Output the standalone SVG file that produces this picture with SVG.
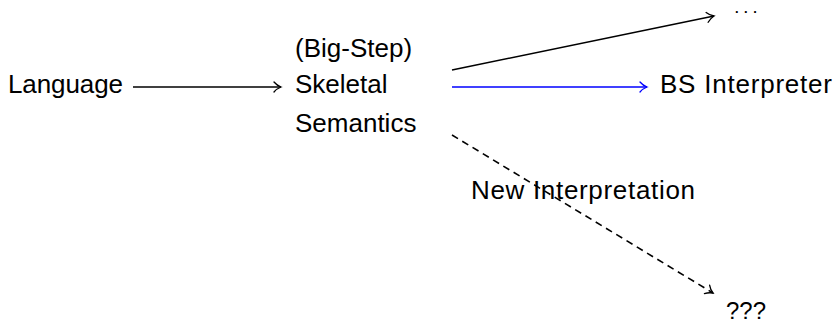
<svg xmlns="http://www.w3.org/2000/svg" width="835" height="325" viewBox="0 0 835 325">
<style>
text{font-family:"Liberation Sans",Arial,sans-serif;font-size:26px;fill:#000}
.c{fill:none;stroke-width:1.6}
</style>
<defs>
<marker id="ab" viewBox="-8 -6 10 12" refX="0" refY="0" markerWidth="10" markerHeight="12" markerUnits="userSpaceOnUse" orient="auto">
<path d="M-7,-5 C-4.5,-2 -2,-0.8 0,0 C-2,0.8 -4.5,2 -7,5" fill="none" stroke="#000" stroke-width="1.3" stroke-linecap="round"/>
</marker>
<marker id="au" viewBox="-8 -6 10 12" refX="0" refY="0" markerWidth="10" markerHeight="12" markerUnits="userSpaceOnUse" orient="auto">
<path d="M-7,-5 C-4.5,-2 -2,-0.8 0,0 C-2,0.8 -4.5,2 -7,5" fill="none" stroke="#0000ff" stroke-width="1.3" stroke-linecap="round"/>
</marker>
</defs>
<g id="n-language"><text x="8" y="93" textLength="115">Language</text></g>
<g id="n-skeletal"><text x="295" y="57">(Big-Step)</text><text x="295" y="93">Skeletal</text><text x="295" y="132">Semantics</text></g>
<g id="n-dots"><text x="735" y="12.5" style="font-size:13px;font-weight:bold;letter-spacing:5.5px">...</text></g>
<g id="n-bs"><text x="660" y="93" textLength="172">BS Interpreter</text></g>
<g id="n-new"><text x="471" y="199" textLength="224">New Interpretation</text></g>
<g id="n-qqq"><text x="726" y="319" style="font-size:24px">???</text></g>
<g id="connectors">
<line class="c" x1="133" y1="87" x2="281" y2="87" stroke="#000" marker-end="url(#ab)"/>
<line class="c" x1="452" y1="70" x2="714" y2="16" stroke="#000" marker-end="url(#ab)"/>
<line class="c" x1="452" y1="87" x2="647" y2="87" stroke="#0000ff" marker-end="url(#au)"/>
<line class="c" x1="452" y1="135" x2="713" y2="293" stroke="#000" stroke-width="1" stroke-dasharray="7,5" marker-end="url(#ab)"/>
</g>
</svg>
